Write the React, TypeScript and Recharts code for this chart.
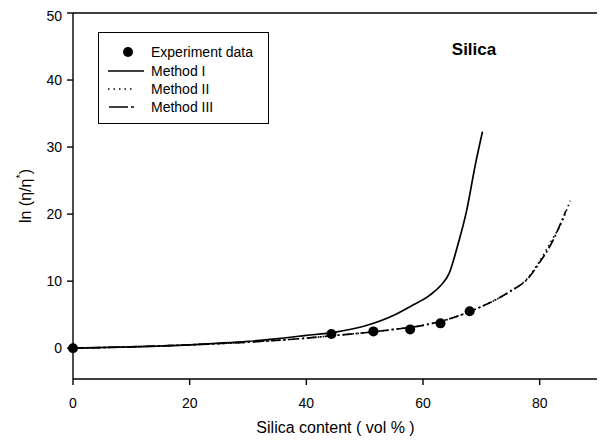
import React from 'react';
import { ComposedChart, Line, Scatter, XAxis, YAxis, ReferenceLine, Label } from 'recharts';

// values (vol %, ln(eta/eta*))
const experimentX = [0, 44.3, 51.5, 57.8, 63, 68];
const experimentY = [0, 2.1, 2.5, 2.8, 3.7, 5.5];

const method1X = [0, 10, 20, 30, 40, 45, 50, 55, 58, 61, 63, 64.5, 66, 67.5, 69, 70.2];
const method1Y = [0, 0.2, 0.5, 1.0, 1.9, 2.4, 3.3, 4.9, 6.3, 7.8, 9.3, 11.2, 15.5, 20.6, 27.5, 32.3];

const method2X = [0, 10, 20, 30, 40, 45, 50, 55, 60, 65, 70, 75, 78, 80, 82, 84, 85.2];
const method2Y = [0, 0.2, 0.5, 0.9, 1.5, 1.9, 2.3, 2.8, 3.4, 4.5, 6.2, 8.5, 10.5, 13, 16, 19.2, 22];

const method3X = [0, 10, 20, 30, 40, 45, 50, 55, 60, 65, 70, 75, 78, 80, 82, 84.5];
const method3Y = [0, 0.2, 0.5, 0.9, 1.5, 1.9, 2.3, 2.8, 3.4, 4.5, 6.2, 8.5, 10.4, 12.8, 15.6, 20.5];

const xTicks = [0, 20, 40, 60, 80];
const yTicks = [0, 10, 20, 30, 40, 50];

const toPoints = (xs: number[], ys: number[]) => xs.map((x, i) => ({ x, y: ys[i] }));

const experimentData = toPoints(experimentX, experimentY);
const method1Data = toPoints(method1X, method1Y);
const method2Data = toPoints(method2X, method2Y);
const method3Data = toPoints(method3X, method3Y);

const FONT = '"Liberation Sans", Arial, sans-serif';
const AXIS = { stroke: '#000', strokeWidth: 1.4 };

const renderYLabel = (props: any) => {
  const vb = props.viewBox || { y: 5, height: 366 };
  const cy = vb.y + vb.height / 2;
  const cx = 17;
  return (
    <text
      x={cx}
      y={cy}
      transform={`rotate(-90 ${cx} ${cy})`}
      textAnchor="middle"
      dominantBaseline="central"
      fontSize={16}
      fill="#000"
      fontFamily={FONT}
    >
      ln (η/η<tspan dy={-5} fontSize={11}>*</tspan><tspan dy={5}>)</tspan>
    </text>
  );
};

const LegendBox = () => {
  const rowStyle = (top: number): React.CSSProperties => ({
    position: 'absolute', left: 0, top, height: 18, width: '100%', lineHeight: '18px',
  });
  const textStyle: React.CSSProperties = { position: 'absolute', left: 52, top: 0, fontSize: 14, whiteSpace: 'nowrap' };
  return (
    <div style={{
      position: 'absolute', left: 90, top: 24, width: 171, height: 92,
      border: '1px solid #000', boxSizing: 'border-box', background: '#fff',
    }}>
      <div style={rowStyle(10)}>
        <svg width={50} height={18} style={{ position: 'absolute', left: 0, top: 0 }}>
          <circle cx={29} cy={9} r={5} fill="#000" />
        </svg>
        <span style={textStyle}>Experiment data</span>
      </div>
      <div style={rowStyle(29)}>
        <svg width={50} height={18} style={{ position: 'absolute', left: 0, top: 0 }}>
          <line x1={9} y1={9} x2={45} y2={9} stroke="#000" strokeWidth={1.5} />
        </svg>
        <span style={textStyle}>Method I</span>
      </div>
      <div style={rowStyle(47)}>
        <svg width={50} height={18} style={{ position: 'absolute', left: 0, top: 0 }}>
          <line x1={9} y1={9} x2={34} y2={9} stroke="#000" strokeWidth={1.5} strokeDasharray="1.5 4" />
        </svg>
        <span style={textStyle}>Method II</span>
      </div>
      <div style={rowStyle(65)}>
        <svg width={50} height={18} style={{ position: 'absolute', left: 0, top: 0 }}>
          <line x1={10} y1={9} x2={29} y2={9} stroke="#000" strokeWidth={1.5} />
          <line x1={32} y1={9} x2={35} y2={9} stroke="#000" strokeWidth={1.5} />
        </svg>
        <span style={textStyle}>Method III</span>
      </div>
    </div>
  );
};

export default function App() {
  return (
    <div style={{ position: 'relative', width: 597, height: 435, fontFamily: FONT, background: '#fff' }}>
      <ComposedChart width={597} height={435} margin={{ top: 5, right: 7, bottom: 6, left: 0 }}>
        <XAxis
          dataKey="x"
          type="number"
          domain={[0, 90]}
          ticks={xTicks}
          height={58}
          tickSize={6}
          tickMargin={13}
          axisLine={AXIS}
          tickLine={AXIS}
          tick={{ fill: '#000', fontSize: 14 }}
        >
          <Label value="Silica content ( vol % )" position="insideBottom" offset={4} fill="#000" fontSize={16} />
        </XAxis>
        <YAxis
          type="number"
          domain={[-4.6, 50]}
          ticks={yTicks}
          width={65}
          tickSize={6}
          tickMargin={5}
          axisLine={AXIS}
          tickLine={AXIS}
          tick={{ fill: '#000', fontSize: 14 }}
        >
          <Label content={renderYLabel} />
        </YAxis>
        <ReferenceLine y={50} stroke="#000" strokeWidth={1.4} />
        <ReferenceLine x={90} stroke="#000" strokeWidth={1.4} />
        <Line data={method1Data} dataKey="y" type="monotone" stroke="#000" strokeWidth={1.7} dot={false} isAnimationActive={false} />
        <Line data={method2Data} dataKey="y" type="monotone" stroke="#000" strokeWidth={1.6} strokeDasharray="1.5 3.5" dot={false} isAnimationActive={false} />
        <Line data={method3Data} dataKey="y" type="monotone" stroke="#000" strokeWidth={1.7} strokeDasharray="10 3 2 3" dot={false} isAnimationActive={false} />
        <Scatter
          data={experimentData}
          dataKey="y"
          fill="#000"
          isAnimationActive={false}
          shape={(p: any) => <circle cx={p.cx} cy={p.cy} r={5} fill="#000" />}
        />
      </ComposedChart>
      <LegendBox />
      <div style={{
        position: 'absolute', left: 466, top: 33, transform: 'translateX(-50%)',
        fontSize: 17, fontWeight: 'bold', lineHeight: '17px', whiteSpace: 'nowrap',
      }}>
        Silica
      </div>
    </div>
  );
}
